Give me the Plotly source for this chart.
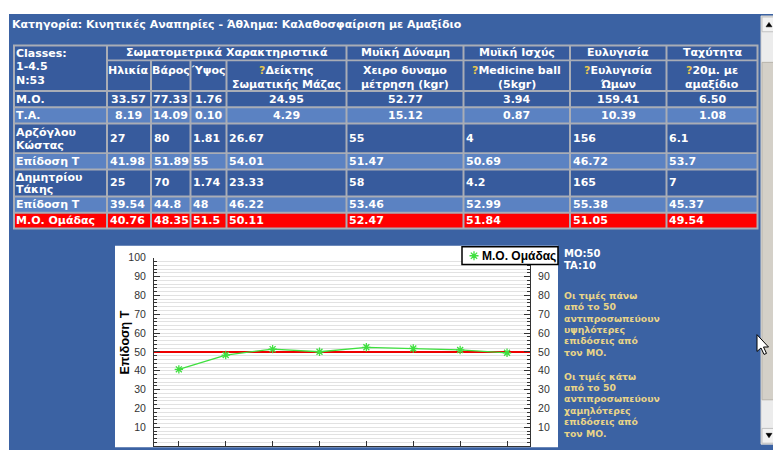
import plotly.graph_objects as go

W, H = 781, 450
OFF = 8  # page body margin of the browser

# ---------------- data ----------------
TITLE = "Κατηγορία: Κινητικές Αναπηρίες - Άθλημα: Καλαθοσφαίριση με Αμαξίδιο"
CLASS_INFO = ["Classes:", "1-4.5", "N:53"]
GROUPS = ["Σωματομετρικά Χαρακτηριστικά", "Μυϊκή Δύναμη", "Μυϊκή Ισχύς", "Ευλυγισία", "Ταχύτητα"]
GROUP_SPANS = [4, 1, 1, 1, 1]
TEST_HEADERS = [["Ηλικία"], ["Βάρος"], ["Ύψος"], ["Δείκτης", "Σωματικής Μάζας"],
                ["Χειρο δυναμο", "μέτρηση (kgr)"], ["Medicine ball", "(5kgr)"],
                ["Ευλυγισία", "Ώμων"], ["20μ. με", "αμαξίδιο"]]
TEST_HELP = [False, False, False, True, False, True, True, True]
TESTS = ["Ηλικία", "Βάρος", "Ύψος", "Δείκτης Σωματικής Μάζας", "Χειροδυναμομέτρηση",
         "Medicine ball", "Ευλυγισία Ώμων", "20μ. με αμαξίδιο"]

MO = [33.57, 77.33, 1.76, 24.95, 52.77, 3.94, 159.41, 6.50]
TA = [8.19, 14.09, 0.10, 4.29, 15.12, 0.87, 10.39, 1.08]
ATHLETE_1 = ["Αρζόγλου", "Κώστας"]
ATHLETE_1_RAW = [27, 80, 1.81, 26.67, 55, 4, 156, 6.1]
ATHLETE_1_T = [41.98, 51.89, 55, 54.01, 51.47, 50.69, 46.72, 53.7]
ATHLETE_2 = ["Δημητρίου", "Τάκης"]
ATHLETE_2_RAW = [25, 70, 1.74, 23.33, 58, 4.2, 165, 7]
ATHLETE_2_T = [39.54, 44.8, 48, 46.22, 53.46, 52.99, 55.38, 45.37]
GROUP_LABEL = "Μ.Ο. Ομάδας"
GROUP_MEAN = [40.76, 48.35, 51.5, 50.11, 52.47, 51.84, 51.05, 49.54]
T_MEAN, T_SD = 50, 10
Y_TICKS_LEFT = [10, 20, 30, 40, 50, 60, 70, 80, 90, 100]
Y_TICKS_RIGHT = [10, 20, 30, 40, 50, 60, 70, 80, 90]
NOTE_ABOVE = ["Οι τιμές πάνω", "από το 50", "αντιπροσωπεύουν", "υψηλότερες", "επιδόσεις από", "τον ΜΟ."]
NOTE_BELOW = ["Οι τιμές κάτω", "από το 50", "αντιπροσωπεύουν", "χαμηλότερες", "επιδόσεις από", "τον ΜΟ."]

# ---------------- style / layout ----------------
PANEL = "#3b62a3"
DARK = "#375b9d"
LIGHT = "#5b82c2"
RED = "#ff0000"
BORDER = "#a9adb6"
GREEN = "#3fe03f"
YELLOW = "#e8d488"
HELP = "#e8c850"
TFONT = "DejaVu Sans, Verdana, sans-serif"
AFONT = "Liberation Sans, Arial, sans-serif"
TS = 11
X_RANGE = [-0.53, 7.49]

COL_EDGES = [14, 107, 151, 190.5, 226.5, 346.5, 463.5, 570, 666.5, 757.5]
ROW_EDGES = [40, 55, 86, 102.5, 119, 149, 165.5, 193, 209.5, 225.5]


def X(p):
    return (p - OFF) / W


def Y(p):
    return 1 - (p - OFF) / H


shapes = []
annotations = []


def rect(x0, y0, x1, y1, fill, line=None, lw=0, layer="below"):
    shapes.append(dict(type="rect", xref="paper", yref="paper",
                       x0=X(x0), x1=X(x1), y0=Y(y1), y1=Y(y0),
                       fillcolor=fill, line=dict(color=line or fill, width=lw), layer=layer))


def text(x, y, s, size=TS, color="white", anchor="center", family=TFONT, bold=True, angle=0):
    if bold:
        s = "<b>" + s + "</b>"
    annotations.append(dict(x=X(x), y=Y(y), xref="paper", yref="paper", text=s,
                            showarrow=False, xanchor=anchor, yanchor="middle",
                            textangle=angle, borderpad=0,
                            font=dict(family=family, size=size, color=color)))


def fmt(v):
    return f"{v:g}"


# page panel
rect(9, 8, 777, 460, PANEL)
text(11, 19, TITLE, anchor="left")

# table
rect(COL_EDGES[0] - 1, ROW_EDGES[0] - 1, COL_EDGES[-1] + 1, ROW_EDGES[-1] + 1, BORDER)


def cell(c0, c1, r0, r1, fill):
    rect(COL_EDGES[c0] + 1, ROW_EDGES[r0] + 1, COL_EDGES[c1] - 1, ROW_EDGES[r1] - 1, fill)


cell(0, 1, 0, 2, DARK)
for i, s in enumerate(CLASS_INFO):
    text(COL_EDGES[0] + 1, 48 + i * 13.5, s, anchor="left")

c = 1
for name, span in zip(GROUPS, GROUP_SPANS):
    cell(c, c + span, 0, 1, DARK)
    text((COL_EDGES[c] + COL_EDGES[c + span]) / 2, 47.5, name)
    c += span

for i, (lines, hlp) in enumerate(zip(TEST_HEADERS, TEST_HELP)):
    cell(i + 1, i + 2, 1, 2, DARK)
    xc = (COL_EDGES[i + 1] + COL_EDGES[i + 2]) / 2
    for j, ln in enumerate(lines):
        s = ln
        if j == 0 and hlp:
            s = "<span style='color:%s'>?</span>" % HELP + ln
        text(xc, 65.5 + j * 14, s)

body = [
    (["Μ.Ο."], [f"{v:.2f}" for v in MO], DARK, "center"),
    (["Τ.Α."], [f"{v:.2f}" for v in TA], LIGHT, "center"),
    (ATHLETE_1, [fmt(v) for v in ATHLETE_1_RAW], DARK, "left"),
    (["Επίδοση Τ"], [fmt(v) for v in ATHLETE_1_T], LIGHT, "left"),
    (ATHLETE_2, [fmt(v) for v in ATHLETE_2_RAW], DARK, "left"),
    (["Επίδοση Τ"], [fmt(v) for v in ATHLETE_2_T], LIGHT, "left"),
    ([GROUP_LABEL], [fmt(v) for v in GROUP_MEAN], RED, "left"),
]
for k, (label, vals, fill, align) in enumerate(body):
    r = k + 2
    yc = (ROW_EDGES[r] + ROW_EDGES[r + 1]) / 2
    cell(0, 1, r, r + 1, fill)
    if len(label) == 1:
        text(COL_EDGES[0] + 1, yc, label[0], anchor="left")
    else:
        text(COL_EDGES[0] + 1, yc - 5.5, label[0], anchor="left")
        text(COL_EDGES[0] + 1, yc + 7, label[1], anchor="left")
    for i, v in enumerate(vals):
        cell(i + 1, i + 2, r, r + 1, fill)
        if align == "center":
            text((COL_EDGES[i + 1] + COL_EDGES[i + 2]) / 2, yc, v)
        else:
            text(COL_EDGES[i + 1] + 1.5, yc, v, anchor="left")

# chart box
rect(115, 243, 558, 447, "white")

# notes on the right
text(563, 251, "MO:%d" % T_MEAN, anchor="left", size=10)
text(563, 263, "TA:%d" % T_SD, anchor="left", size=10)
for i, s in enumerate(NOTE_ABOVE):
    text(563, 293 + i * 11.6, s, anchor="left", size=9.3, color=YELLOW)
for i, s in enumerate(NOTE_BELOW):
    text(563, 375 + i * 11.6, s, anchor="left", size=9.3, color=YELLOW)

# y-axis title
text(125, 341, "Επίδοση Τ", size=12.5, color="black", family=AFONT, angle=-90)

# manual legend box
rect(462, 244, 558, 262, "white", line="black", lw=1.5, layer="above")
cx, cy, rr = 474, 253, 4.5
star = "M%g,%g L%g,%g M%g,%g L%g,%g M%g,%g L%g,%g M%g,%g L%g,%g" % (
    X(cx - rr), Y(cy), X(cx + rr), Y(cy),
    X(cx), Y(cy - rr), X(cx), Y(cy + rr),
    X(cx - rr * 0.7), Y(cy - rr * 0.7), X(cx + rr * 0.7), Y(cy + rr * 0.7),
    X(cx - rr * 0.7), Y(cy + rr * 0.7), X(cx + rr * 0.7), Y(cy - rr * 0.7))
shapes.append(dict(type="path", xref="paper", yref="paper", path=star,
                   line=dict(color=GREEN, width=1.3), layer="above"))
text(481, 253, GROUP_LABEL, size=12, color="black", family=AFONT, anchor="left")

# scrollbar
rect(761, 10, 777, 444, "#ececec", line="#d0d0d0", lw=1, layer="above")
rect(762, 57, 776, 399, "#d4d0c8", line="#b8b4ac", lw=1, layer="above")
rect(762, 11, 776, 26, "#f2f2f2", line="#c0c0c0", lw=1, layer="above")
rect(762, 428, 776, 443, "#f2f2f2", line="#c0c0c0", lw=1, layer="above")
shapes.append(dict(type="path", xref="paper", yref="paper",
                   path="M%g,%g L%g,%g L%g,%g Z" % (X(766), Y(21), X(772), Y(21), X(769), Y(16.5)),
                   fillcolor="black", line=dict(color="black", width=0.5), layer="above"))
shapes.append(dict(type="path", xref="paper", yref="paper",
                   path="M%g,%g L%g,%g L%g,%g Z" % (X(766), Y(433), X(772), Y(433), X(769), Y(437.5)),
                   fillcolor="black", line=dict(color="black", width=0.5), layer="above"))

# mouse cursor
cur = [(757, 333), (757, 350), (761, 346.5), (764, 353), (766.5, 352), (763.5, 345.5), (768.5, 345.5)]
shapes.append(dict(type="path", xref="paper", yref="paper",
                   path="M" + " L".join("%g,%g" % (X(a), Y(b)) for a, b in cur) + " Z",
                   fillcolor="white", line=dict(color="black", width=1), layer="above"))

# reference line at the T mean (between grid and traces)
shapes.append(dict(type="line", xref="x", yref="y", x0=X_RANGE[0], x1=X_RANGE[1],
                   y0=T_MEAN, y1=T_MEAN, line=dict(color="#ee0000", width=2), layer="between"))

# ---------------- figure ----------------
fig = go.Figure()
fig.add_trace(go.Scatter(
    x=TESTS, y=GROUP_MEAN, mode="lines+markers", name=GROUP_LABEL,
    line=dict(color=GREEN, width=1.3),
    marker=dict(symbol="asterisk-open", size=7, color=GREEN, line=dict(color=GREEN, width=1.3)),
    showlegend=False, hoverinfo="skip"))
fig.add_trace(go.Scatter(
    x=TESTS, y=GROUP_MEAN, yaxis="y2", mode="lines", opacity=0,
    line=dict(width=0), showlegend=False, hoverinfo="skip"))

tickfont = dict(family=AFONT, size=10.5, color="#333333")
fig.update_layout(
    width=W, height=H, margin=dict(l=0, r=0, t=0, b=0),
    paper_bgcolor="white", plot_bgcolor="rgba(0,0,0,0)",
    showlegend=False,
    xaxis=dict(domain=[X(154), X(530)], type="category", range=X_RANGE,
               showticklabels=False, ticks="inside", ticklen=5, tickcolor="#333333",
               showline=True, linecolor="#333333", linewidth=1, showgrid=False,
               zeroline=False, fixedrange=True),
    yaxis=dict(domain=[Y(446), Y(255)], range=[0, 100], tickmode="array", tickvals=Y_TICKS_LEFT,
               ticks="inside", ticklen=6, tickcolor="#333333", showline=True,
               linecolor="#333333", linewidth=1, showgrid=True, gridcolor="#e2e2e2",
               zeroline=False, tickfont=tickfont, ticklabelstandoff=5,
               minor=dict(tick0=0, dtick=2, ticks="inside", ticklen=3, tickcolor="#333333",
                          showgrid=True, gridcolor="#e2e2e2"), fixedrange=True),
    yaxis2=dict(overlaying="y", side="right", anchor="x", range=[0, 100], tickmode="array",
                tickvals=Y_TICKS_RIGHT, ticks="inside", ticklen=6, tickcolor="#333333",
                showline=True, linecolor="#333333", linewidth=1, showgrid=False,
                zeroline=False, tickfont=tickfont, ticklabelstandoff=5,
                minor=dict(tick0=0, dtick=2, ticks="inside", ticklen=3, tickcolor="#333333",
                           showgrid=False), fixedrange=True),
    shapes=shapes, annotations=annotations,
)

fig.write_html("out.html")
